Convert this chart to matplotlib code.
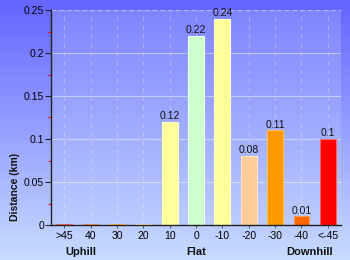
import numpy as np
import matplotlib
matplotlib.use("Agg")
import matplotlib.pyplot as plt
from matplotlib.colors import LinearSegmentedColormap

categories = [">45", "40", "30", "20", "10", "0", "-10", "-20", "-30", "-40", "<-45"]
values = [0.001, 0.001, 0.001, 0.001, 0.12, 0.22, 0.24, 0.08, 0.11, 0.01, 0.1]
labels = ["", "", "", "", "0.12", "0.22", "0.24", "0.08", "0.11", "0.01", "0.1"]
colors = ["#ff0000", "#ff6600", "#ff9900", "#ffcc99", "#ffff99", "#ccffcc",
          "#ffff99", "#ffcc99", "#ff9900", "#ff6600", "#ff0000"]
edges = ["#ff6666", "#ff9955", "#ffbb55", "#ffe0c0", "#ffffcc", "#eeffee",
         "#ffffcc", "#ffe0c0", "#ffbb55", "#ff9955", "#ff6666"]
groups = [("Uphill", 0.65), ("Flat", 5.0), ("Downhill", 9.3)]
yticks = [0, 0.05, 0.1, 0.15, 0.2, 0.25]
yticklabels = ["0", "0.05", "0.1", "0.15", "0.2", "0.25"]

plt.rcParams['font.family'] = ['Liberation Sans', 'DejaVu Sans']

W, H = 350, 260
fig = plt.figure(figsize=(W / 100, H / 100), dpi=100)

# figure background gradient
bg = fig.add_axes([0, 0, 1, 1], zorder=-10)
cmap_bg = LinearSegmentedColormap.from_list("bg", ["#6464ff", "#c8dcff"])
bg.imshow(np.linspace(0, 1, 256).reshape(-1, 1), aspect="auto", cmap=cmap_bg,
          extent=[0, 1, 0, 1])
bg.axis("off")

left, right, top, bottom = 51, 341, 10, 225
ax = fig.add_axes([left / W, 1 - bottom / H, (right - left) / W, (bottom - top) / H])
ax.patch.set_alpha(0)
cmap_pa = LinearSegmentedColormap.from_list("pa", ["#7f84ff", "#bccdff"])
ax.imshow(np.linspace(0, 1, 256).reshape(-1, 1), aspect="auto", cmap=cmap_pa,
          extent=[0, 1, 0, 1], transform=ax.transAxes, zorder=0)

x = np.arange(len(categories))
ax.bar(x, values, width=0.6, color=colors, edgecolor=edges, linewidth=0.8, zorder=3)
for xi, v, lab in zip(x, values, labels):
    if lab:
        ax.text(xi, v + 0.001, lab, ha="center", va="bottom", fontsize=7.5,
                color="#111111", zorder=4)

ax.set_xlim(-0.5, len(categories) - 0.5)
ax.set_ylim(0, 0.25)

# grid
for yv in yticks[1:-1]:
    ax.axhline(yv, color="white", alpha=0.45, lw=0.8, zorder=1)
ax.axhline(0.25, color="white", alpha=0.45, lw=0.8, ls=(0, (4, 3)), zorder=1)
for xi in x:
    ax.axvline(xi, color="white", alpha=0.3, lw=0.8, ls=(0, (4, 4)), zorder=1)

ax.set_yticks(yticks)
ax.set_yticklabels(yticklabels, fontsize=7.5)
ax.set_yticks(np.arange(0.025, 0.25, 0.05), minor=True)
ax.tick_params(axis="y", which="major", length=4, width=0.8, color="#222222", pad=1)
ax.tick_params(axis="y", which="minor", length=2.5, width=0.8, color="#ff0000")
ax.set_xticks(x)
ax.set_xticklabels(categories, fontsize=7.5)
ax.tick_params(axis="x", length=2, width=0.6, color="#444444", pad=2)

for s in ["top", "right"]:
    ax.spines[s].set_visible(False)
for s in ["left", "bottom"]:
    ax.spines[s].set_color("#222222")
    ax.spines[s].set_linewidth(1)
    ax.spines[s].set_zorder(5)

for name, gx in groups:
    ax.text(gx, -0.031, name, transform=ax.get_xaxis_transform() if False else ax.transData,
            ha="center", va="center", fontsize=8, fontweight="bold", color="#111111",
            clip_on=False)

fig.text(15 / W, 1 - 187 / H, "Distance (km)", rotation=90, ha="center", va="center",
         fontsize=7.5, fontweight="bold", color="#111111")

fig.savefig("out.png", dpi=100)
